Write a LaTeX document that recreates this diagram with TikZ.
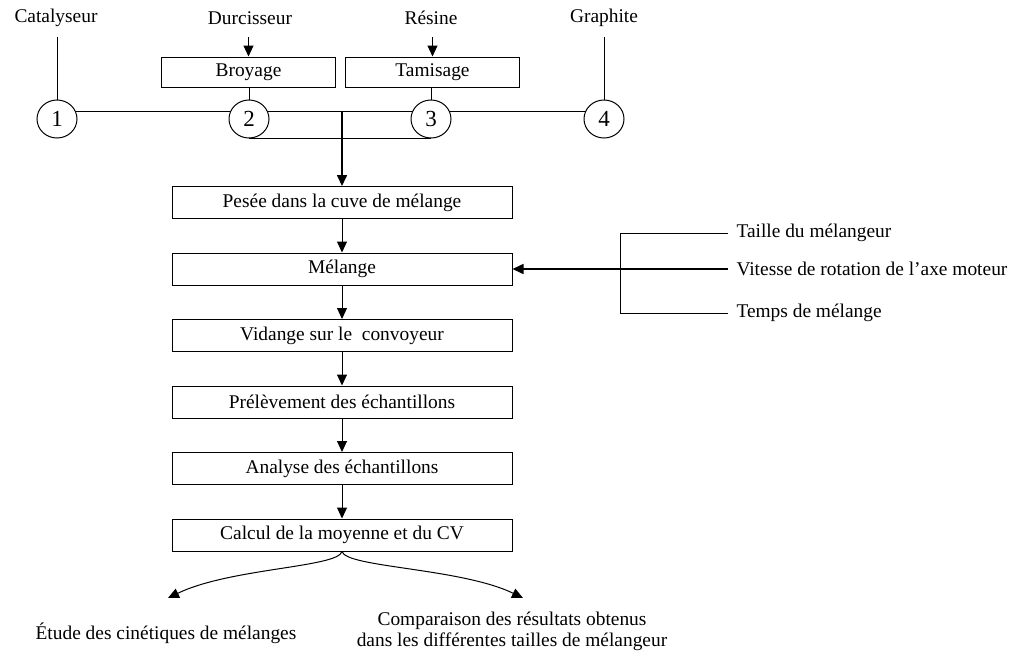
\documentclass[tikz,border=0pt]{standalone}
\usepackage{fontspec}
\setmainfont{Liberation Serif}
\usetikzlibrary{arrows.meta,shapes.geometric}
\tikzset{
  base/.style={font=\fontsize{9.7}{10.5}\selectfont},
  mainbox/.style={base,draw,rectangle,minimum width=170pt,minimum height=16pt,inner sep=0pt},
  smallbox/.style={base,draw,rectangle,minimum width=87pt,minimum height=15pt,inner sep=0pt},
  numc/.style={draw,ellipse,minimum width=20pt,minimum height=19pt,inner sep=0pt,font=\fontsize{11.5}{12}\selectfont},
  lbl/.style={base,inner sep=2pt},
  arr/.style={-{Triangle[length=5.5pt,width=5pt]}},
}
\begin{document}
\begin{tikzpicture}[x=0.5pt,y=-0.5pt,line width=0.5pt]
\useasboundingbox (0,0) rectangle (1011,653);
% top labels
\node[lbl] (cat) at (56,18) {Catalyseur};
\node[lbl] (dur) at (250,18) {Durcisseur};
\node[lbl] (res) at (431,18) {Résine};
\node[lbl] (gra) at (604,18) {Graphite};
% boxes
\node[smallbox] (broy) at (248.5,72) {Broyage};
\node[smallbox] (tam) at (432.5,72) {Tamisage};
% circles
\node[numc] (c1) at (57,119) {1};
\node[numc] (c2) at (249,119) {2};
\node[numc] (c3) at (431,119) {3};
\node[numc] (c4) at (604,119) {4};
% main column
\node[mainbox] (pes) at (342,202.5) {Pesée dans la cuve de mélange};
\node[mainbox] (mel) at (342,269) {Mélange};
\node[mainbox] (vid) at (342,335.5) {Vidange sur le\ \ convoyeur};
\node[mainbox] (pre) at (342,402) {Prélèvement des échantillons};
\node[mainbox] (ana) at (342,468.5) {Analyse des échantillons};
\node[mainbox] (cal) at (342,535) {Calcul de la moyenne et du CV};
% right parameters
\node[lbl,anchor=west,inner sep=4pt] (tai) at (728,233) {Taille du mélangeur};
\node[lbl,anchor=west,inner sep=4pt] (vit) at (728,269) {Vitesse de rotation de l’axe moteur};
\node[lbl,anchor=west,inner sep=4pt] (tem) at (728,313) {Temps de mélange};
\coordinate (bk) at (620,269);
% bottom results
\node[lbl] (etu) at (166,633) {Étude des cinétiques de mélanges};
\node[lbl,align=center] (com) at (512,631) {Comparaison des résultats obtenus\\dans les différentes tailles de mélangeur};
\coordinate (lt) at (168,598);
\coordinate (rt) at (523,598);
% connectors top
\draw[shorten <=3pt] (cat.south -| c1.north) -- (c1.north);
\draw[shorten <=3pt] (gra.south -| c4.north) -- (c4.north);
\draw[arr,shorten <=4pt] (dur.south -| broy.north) -- (broy.north);
\draw[arr,shorten <=4pt] (res.south -| tam.north) -- (tam.north);
\draw (broy.south -| c2.north) -- (c2.north);
\draw (tam.south -| c3.north) -- (c3.north);
\draw (c1.22) -- (c2.158);
\draw (c2.22) -- (c3.158);
\draw (c3.22) -- (c4.158);
\draw (c2.south) -- (c3.south);
\draw[arr,line width=0.8pt] (pes.north |- c2.22) -- (pes.north);
% main arrows
\draw[arr] (pes) -- (mel);
\draw[arr] (mel) -- (vid);
\draw[arr] (vid) -- (pre);
\draw[arr] (pre) -- (ana);
\draw[arr] (ana) -- (cal);
% bracket
\draw (tai.west) -| (bk |- tem.west) -- (tem.west);
\draw[arr,line width=0.8pt] (vit.west) -- (mel.east);
% bottom curves
\draw[arr] (cal.south) .. controls +(-4,16) and +(62,-30) .. (lt);
\draw[arr] (cal.south) .. controls +(4,16) and +(-62,-30) .. (rt);
\end{tikzpicture}
\end{document}
